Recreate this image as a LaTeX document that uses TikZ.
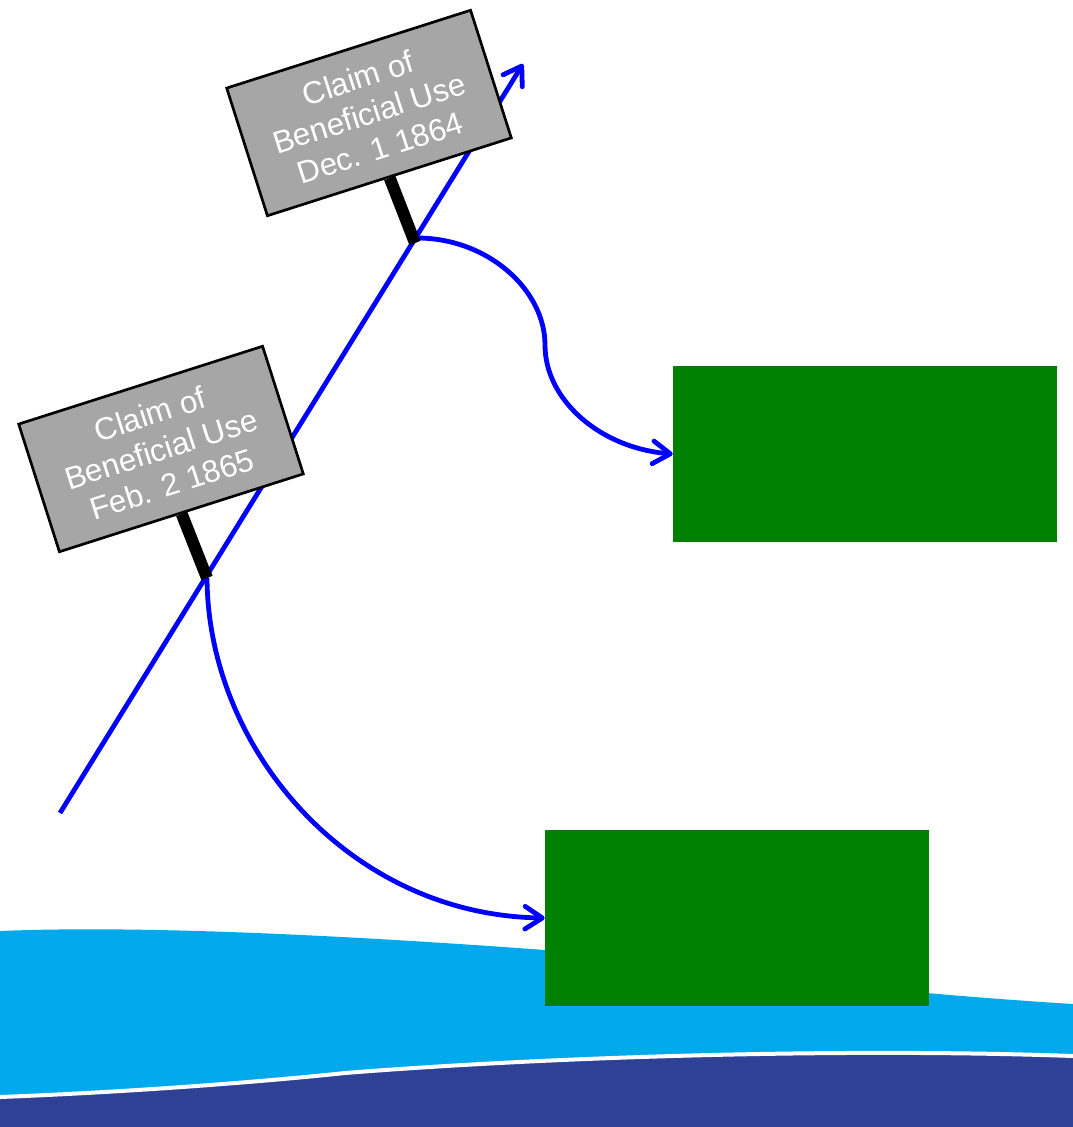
\documentclass[tikz,border=0pt]{standalone}
\usepackage{fontspec}
\setmainfont{Liberation Sans}
\usetikzlibrary{arrows.meta}
\definecolor{wavecyan}{HTML}{00A8EC}
\definecolor{wavenavy}{HTML}{2E4194}
\definecolor{signgray}{HTML}{A6A6A6}
\definecolor{boxgreen}{HTML}{008000}
\definecolor{flowblue}{HTML}{0000FF}
\tikzset{
  x=0.75pt,y=-0.75pt,
  signbox/.style={draw=black,fill=signgray,line width=2pt,rotate=17.7,minimum width=192pt,minimum height=100.5pt,inner sep=0pt,align=center,text=white,font=\fontsize{23.5pt}{27.5pt}\selectfont},
  post/.style={draw=black,line width=9pt},
  greenbox/.style={fill=boxgreen,minimum width=288pt,minimum height=132pt,inner sep=0pt},
  flow/.style={draw=flowblue,line width=3.6pt,-{Straight Barb[round,length=13pt,width=17pt,line width=3.6pt]}},
  channel/.style={draw=flowblue,line width=3.6pt},
}
\begin{document}
\begin{tikzpicture}
\useasboundingbox (0,0) rectangle (1073,1127);
% water bands
\fill[wavecyan] (0,931) .. controls (120,926) and (300,932) .. (545,950)
  .. controls (720,972) and (880,992) .. (1073,1004) -- (1073,1060) -- (0,1100) -- cycle;
\fill[wavenavy] (0,1097) .. controls (130,1092) and (260,1082) .. (345,1073)
  .. controls (560,1056) and (850,1048) .. (1073,1056) -- (1073,1127) -- (0,1127) -- cycle;
\draw[white,line width=3pt] (0,1097) .. controls (130,1092) and (260,1082) .. (345,1073)
  .. controls (560,1056) and (850,1048) .. (1073,1056);
% named free ends
\coordinate (lineStart) at (60,813);
\coordinate (lineEnd) at (523,64);
\coordinate (postEndA) at (415,243);
\coordinate (postEndB) at (207,578);
\coordinate (curveMid) at (545,345);
% green boxes
\node[greenbox] (boxA) at (865,454) {};
\node[greenbox] (boxB) at (737,918) {};
% channel
\draw[flow] (lineStart) -- (lineEnd);
% curves
\draw[channel] (postEndA) ++(2,-5) coordinate (curveStartA) .. controls (488,238) and (545,290) .. (curveMid);
\draw[flow] (curveMid) .. controls (545,400) and (600,448) .. (boxA.west);
\draw[flow] (postEndB) .. controls (208,750) and (350,915) .. (boxB.west);
% signs
\node[signbox] (signA) at (369,113) {Claim of\\Beneficial Use\\Dec. 1 1864};
\node[signbox] (signB) at (161,449) {Claim of\\Beneficial Use\\Feb. 2 1865};
\draw[post] (signA.south) -- (postEndA);
\draw[post] (signB.south) -- (postEndB);
\end{tikzpicture}
\end{document}
